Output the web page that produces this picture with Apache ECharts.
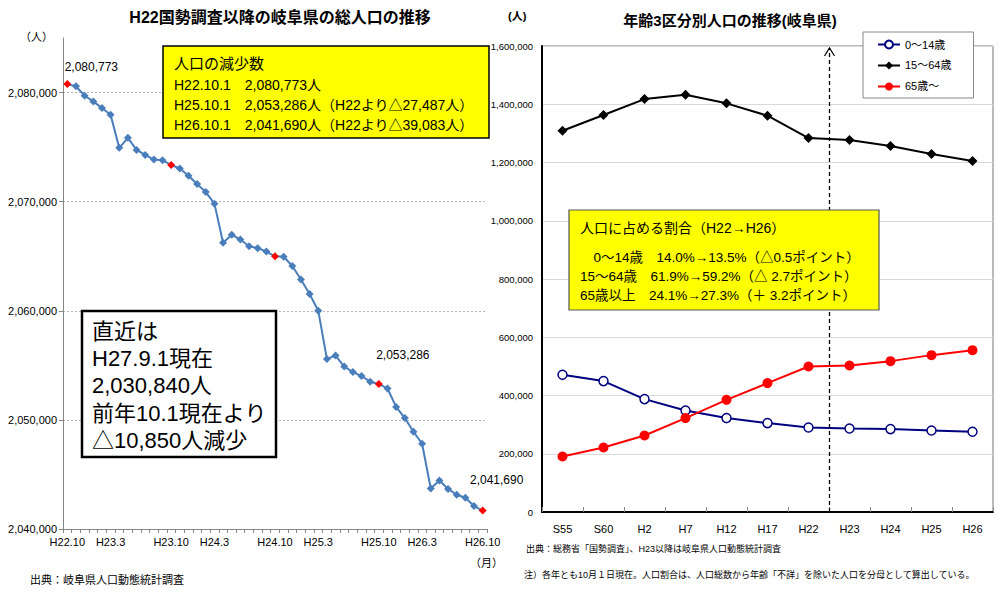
<!DOCTYPE html>
<html>
<head>
<meta charset="utf-8">
<script src="https://cdn.jsdelivr.net/npm/echarts@6/dist/echarts.min.js"></script>
<style>
  html, body { margin: 0; padding: 0; background: #fff; }
  #main { width: 1001px; height: 600px; }
</style>
</head>
<body>
<div id="main"></div>
<script>
// left chart: monthly total population, H22.10 - H26.10
var monthLabels = [];
for (var y = 22, m = 10; y < 26 || (y == 26 && m <= 10); m++) {
    if (m > 12) { m = 1; y++; }
    if (y == 26 && m > 10) break;
    monthLabels.push('H' + y + '.' + m);
}
var shownMonths = ['H22.10', 'H23.3', 'H23.10', 'H24.3', 'H24.10', 'H25.3', 'H25.10', 'H26.3', 'H26.10'];
var totalPop = [
    2080773, 2080570, 2079710, 2079190, 2078580, 2077960, 2074930, 2075850, 2074740, 2074280,
    2073860, 2073800, 2073360, 2073040, 2072370, 2071620, 2070880, 2069820, 2066230, 2066970,
    2066530, 2065920, 2065740, 2065430, 2064990, 2064950, 2064100, 2062860, 2061540, 2060010,
    2055570, 2055900, 2054890, 2054380, 2054020, 2053500, 2053286, 2052880, 2051190, 2050170,
    2048920, 2047810, 2043710, 2044450, 2043670, 2043140, 2042870, 2042100, 2041690
];
var octoberMonths = ['H22.10', 'H23.10', 'H24.10', 'H25.10', 'H26.10'];

// right chart: population by age group
var ageYears = ['S55', 'S60', 'H2', 'H7', 'H12', 'H17', 'H22', 'H23', 'H24', 'H25', 'H26'];
var age0_14 = [471000, 449400, 387600, 348600, 322500, 305300, 290200, 286800, 284700, 279900, 275500];
var age15_64 = [1309000, 1363000, 1417800, 1432600, 1403100, 1360600, 1284000, 1277000, 1256600, 1229200, 1205200];
var age65 = [190700, 221600, 262800, 322500, 385200, 442500, 499500, 502900, 518000, 538600, 555700];

var JP = '"Liberation Sans", "Noto Sans CJK JP", sans-serif';
var chart = echarts.init(document.getElementById('main'), null, {renderer: 'svg'});

function fmt(v) {
    return String(v).replace(/\B(?=(\d{3})+(?!\d))/g, ',');
}

var leftLabelOffset = {0: [24, -2], 36: [24, -14], 48: [14, -16]};
var popData = totalPop.map(function (v, i) {
    var item = {value: v};
    if (octoberMonths.indexOf(monthLabels[i]) >= 0) {
        item.itemStyle = {color: '#ff0000'};
    }
    if (leftLabelOffset[i]) {
        item.label = {show: true, position: 'top', offset: leftLabelOffset[i],
            formatter: function (p) { return fmt(p.value); }};
    }
    return item;
});

function txt(id, x, y, s, size, opt) {
    opt = opt || {};
    return {
        type: 'text', id: id, x: x, y: y, z: opt.z || 20,
        style: {
            text: s, fill: '#000', font: (opt.bold ? 'bold ' : '') + size + 'px ' + JP,
            textAlign: opt.align || 'left', textVerticalAlign: 'middle'
        }
    };
}

var option = {
    animation: false,
    textStyle: {fontFamily: JP},
    grid: [
        {left: 63, top: 38, width: 424, height: 491},
        {left: 542, top: 46, width: 451, height: 466, show: true, borderColor: '#777', borderWidth: 1}
    ],
    legend: {
        orient: 'vertical',
        left: 863, top: 32,
        width: 98,
        padding: [7, 22, 6, 14],
        itemGap: 10,
        itemWidth: 22, itemHeight: 10,
        backgroundColor: '#fff',
        borderColor: '#888', borderWidth: 1,
        textStyle: {fontSize: 11, color: '#000', fontFamily: JP},
        data: ['0～14歳', '15～64歳', '65歳～']
    },
    xAxis: [
        {
            type: 'category', gridIndex: 0, data: monthLabels, boundaryGap: true,
            axisLine: {lineStyle: {color: '#868686'}},
            axisTick: {show: true, interval: 0, length: 4, lineStyle: {color: '#868686'}},
            axisLabel: {
                color: '#000', fontSize: 11, margin: 7,
                interval: function (idx, val) { return shownMonths.indexOf(val) >= 0; }
            }
        },
        {
            type: 'category', gridIndex: 1, data: ageYears, boundaryGap: true,
            axisLine: {lineStyle: {color: '#000', width: 2}},
            axisTick: {show: true, inside: true, length: 5, lineStyle: {color: '#888'}},
            axisLabel: {color: '#000', fontSize: 11, margin: 11}
        }
    ],
    yAxis: [
        {
            type: 'value', gridIndex: 0, min: 2040000, max: 2085000, interval: 10000,
            axisLine: {show: true, lineStyle: {color: '#868686'}},
            axisTick: {show: true, length: 4, lineStyle: {color: '#868686'}},
            axisLabel: {color: '#000', fontSize: 11, margin: 6, showMaxLabel: false, formatter: fmt},
            splitLine: {showMaxLine: false, lineStyle: {color: '#b4b4b4', type: [2, 2]}}
        },
        {
            type: 'value', gridIndex: 1, min: 0, max: 1600000, interval: 200000,
            axisLine: {show: true, lineStyle: {color: '#000', width: 2}},
            axisTick: {show: false},
            axisLabel: {color: '#000', fontSize: 9.5, margin: 9, formatter: fmt},
            splitLine: {lineStyle: {color: '#d9d9d9'}}
        }
    ],
    series: [
        {
            name: '総人口', type: 'line', xAxisIndex: 0, yAxisIndex: 0,
            data: popData,
            showAllSymbol: true,
            symbol: 'diamond', symbolSize: 8,
            lineStyle: {color: '#4a7ebb', width: 2},
            itemStyle: {color: '#4a7ebb'},
            label: {color: '#000', fontSize: 12, fontFamily: JP}
        },
        {
            name: '0～14歳', type: 'line', xAxisIndex: 1, yAxisIndex: 1,
            data: age0_14,
            symbol: 'circle', symbolSize: 9,
            lineStyle: {color: '#000080', width: 2},
            itemStyle: {color: '#fff', borderColor: '#000080', borderWidth: 1.5}
        },
        {
            name: '15～64歳', type: 'line', xAxisIndex: 1, yAxisIndex: 1,
            data: age15_64,
            symbol: 'diamond', symbolSize: 10,
            lineStyle: {color: '#000', width: 2},
            itemStyle: {color: '#000'}
        },
        {
            name: '65歳～', type: 'line', xAxisIndex: 1, yAxisIndex: 1,
            data: age65,
            symbol: 'circle', symbolSize: 10,
            lineStyle: {color: '#ff0000', width: 2},
            itemStyle: {color: '#ff0000'}
        }
    ],
    graphic: [
        txt('t1', 280, 17, 'H22国勢調査以降の岐阜県の総人口の推移', 16, {bold: true, align: 'center'}),
        txt('u1', 20, 37, '（人）', 11),
        txt('m1', 470, 563, '（月）', 11),
        txt('s1', 30, 580, '出典：岐阜県人口動態統計調査', 11),
        {type: 'rect', id: 'b1', z: 15, shape: {x: 163, y: 46, width: 326, height: 92},
            style: {fill: '#ffff00', stroke: '#000', lineWidth: 1.5}},
        txt('b1a', 174, 63, '人口の減少数', 15),
        txt('b1b', 174, 85, 'H22.10.1　2,080,773人', 14),
        txt('b1c', 174, 105, 'H25.10.1　2,053,286人（H22より△27,487人）', 14),
        txt('b1d', 174, 125, 'H26.10.1　2,041,690人（H22より△39,083人）', 14),
        {type: 'rect', id: 'b2', z: 15, shape: {x: 82, y: 311, width: 194, height: 146},
            style: {fill: '#fff', stroke: '#000', lineWidth: 2.5}},
        txt('b2a', 92, 331, '直近は', 22),
        txt('b2b', 92, 358, 'H27.9.1現在', 22),
        txt('b2c', 92, 385, '2,030,840人', 22),
        txt('b2d', 92, 413, '前年10.1現在より', 22),
        txt('b2e', 92, 440, '△10,850人減少', 22),

        txt('t2', 730, 20, '年齢3区分別人口の推移(岐阜県)', 15, {bold: true, align: 'center'}),
        txt('u2', 508, 16, '(人)', 11, {bold: true}),
        {type: 'rect', id: 'b3', z: 15, shape: {x: 569, y: 210, width: 310, height: 100},
            style: {fill: '#ffff00', stroke: '#555', lineWidth: 1.2}},
        txt('b3a', 580, 228, '人口に占める割合（H22→H26）', 14),
        txt('b3b', 580, 257, '　0～14歳　14.0%→13.5%（△0.5ポイント）', 13.5),
        txt('b3c', 580, 276, '15～64歳　61.9%→59.2%（△ 2.7ポイント）', 13.5),
        txt('b3d', 580, 295, '65歳以上　24.1%→27.3%（＋ 3.2ポイント）', 13.5),
        txt('n1', 526, 549, '出典：総務省「国勢調査」、H23以降は岐阜県人口動態統計調査', 9),
        txt('n2', 524, 575, '注）各年とも10月１日現在。人口割合は、人口総数から年齢「不詳」を除いた人口を分母として算出している。', 9)
    ]
};

chart.setOption(option);

// dashed divider between H22 (census) and H23 (estimates)
var xa = chart.convertToPixel({xAxisIndex: 1}, 'H22');
var xb = chart.convertToPixel({xAxisIndex: 1}, 'H23');
var xd = Math.round((xa + xb) / 2) + 0.5;
var yBottom = chart.convertToPixel({yAxisIndex: 1}, 0);
var yTop = chart.convertToPixel({yAxisIndex: 1}, 1600000) + 2;
chart.setOption({
    graphic: [
        {type: 'line', id: 'dv', z: 5, shape: {x1: xd, y1: yBottom, x2: xd, y2: yTop},
            style: {stroke: '#000', lineWidth: 1.3, lineDash: [4, 3]}},
        {type: 'polyline', id: 'dva', z: 5,
            shape: {points: [[xd - 5, yTop + 8], [xd, yTop], [xd + 5, yTop + 8]]},
            style: {stroke: '#000', lineWidth: 1.2, fill: null}}
    ]
});
</script>
</body>
</html>
